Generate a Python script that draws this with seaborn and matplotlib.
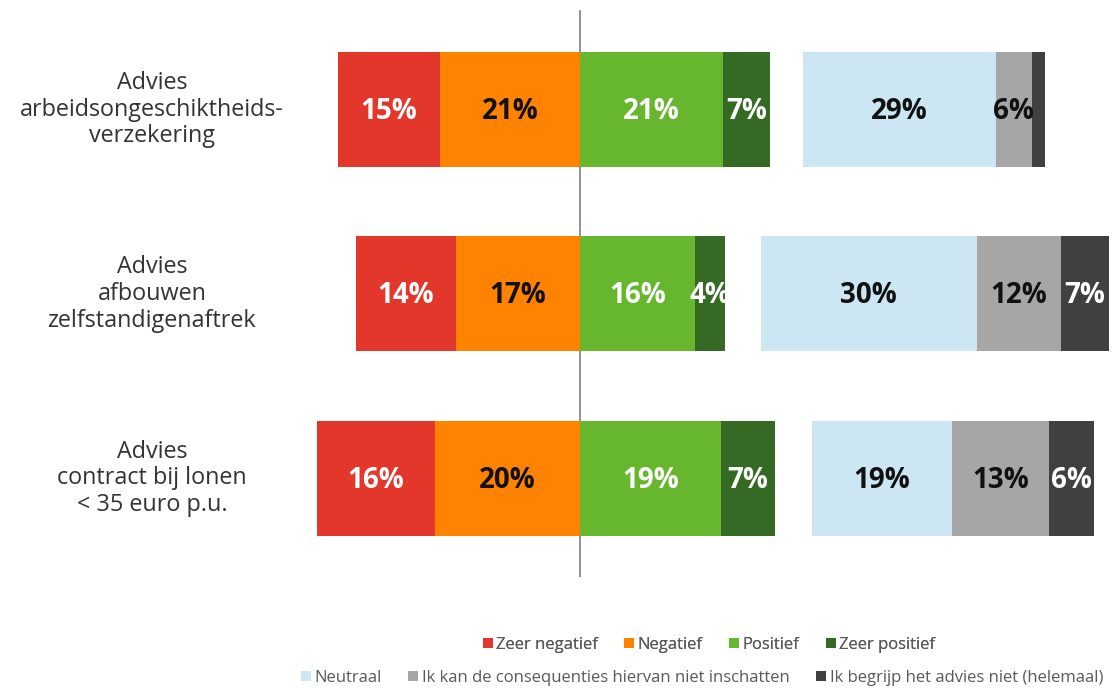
import matplotlib
matplotlib.use('Agg')
import matplotlib.pyplot as plt
from matplotlib.patches import Patch
import seaborn as sns

# Categorieën (van boven naar beneden)
categorieen = ['Advies\narbeidsongeschiktheids-\nverzekering',
               'Advies\nafbouwen\nzelfstandigenaftrek',
               'Advies\ncontract bij lonen\n< 35 euro p.u.']

# Getoonde percentages (None = geen label in het origineel)
pct_zeer_negatief = [15, 14, 16]
pct_negatief = [21, 17, 20]
pct_positief = [21, 16, 19]
pct_zeer_positief = [7, 4, 7]
pct_neutraal = [29, 30, 19]
pct_inschatten = [6, 12, 13]
pct_begrijp = [None, 7, 6]

# Balklengtes zoals getekend in het origineel
len_zeer_negatief = [14.6, 14.3, 16.9]
len_negatief = [20.0, 17.7, 20.7]
len_positief = [20.4, 16.4, 20.1]
len_zeer_positief = [6.7, 4.3, 7.7]
len_neutraal = [27.6, 30.9, 20.0]
len_inschatten = [5.1, 12.0, 13.9]
len_begrijp = [1.9, 6.9, 6.4]
tussenruimte = [4.7, 5.1, 5.3]

legenda_1 = ['Zeer negatief', 'Negatief', 'Positief', 'Zeer positief']
legenda_2 = ['Neutraal', 'Ik kan de consequenties hiervan niet inschatten',
             'Ik begrijp het advies niet (helemaal)']

kleuren_1 = ['#E2372A', '#FF8300', '#66B72E', '#356A24']
kleuren_2 = ['#CCE6F4', '#A6A6A6', '#404040']

sns.set_style('white')
plt.rcParams['font.family'] = ['Open Sans', 'DejaVu Sans']

fig = plt.figure(figsize=(11.12, 6.88), dpi=100)
W, H = 1112, 688
# assen: links 300px, rechts 1112px, boven 10px, onder 577px
ax = fig.add_axes([300 / W, 1 - 577 / H, (1112 - 300) / W, (577 - 10) / H])

y = list(range(len(categorieen)))
hoogte = 0.623


def segment(starts, lengtes, pcts, kleur, tekstkleur):
    ax.barh(y, lengtes, left=starts, height=hoogte, color=kleur, linewidth=0)
    for yi, s, l, p in zip(y, starts, lengtes, pcts):
        if p is None:
            continue
        ax.text(s + l / 2, yi + 0.01, f'{p}%', ha='center', va='center',
                fontsize=20, fontweight='bold', color=tekstkleur)


n = len(y)
# negatieve kant
segment([-(a + b) for a, b in zip(len_zeer_negatief, len_negatief)],
        len_zeer_negatief, pct_zeer_negatief, kleuren_1[0], 'white')
segment([-b for b in len_negatief], len_negatief, pct_negatief, kleuren_1[1], '#111111')
# positieve kant
segment([0] * n, len_positief, pct_positief, kleuren_1[2], 'white')
segment(len_positief, len_zeer_positief, pct_zeer_positief, kleuren_1[3], 'white')
# neutraal blok
start_neutraal = [a + b + g for a, b, g in zip(len_positief, len_zeer_positief, tussenruimte)]
segment(start_neutraal, len_neutraal, pct_neutraal, kleuren_2[0], '#111111')
start_inschatten = [a + b for a, b in zip(start_neutraal, len_neutraal)]
segment(start_inschatten, len_inschatten, pct_inschatten, kleuren_2[1], '#111111')
start_begrijp = [a + b for a, b in zip(start_inschatten, len_inschatten)]
segment(start_begrijp, len_begrijp, pct_begrijp, kleuren_2[2], 'white')

ax.axvline(0, color='#7F7F7F', linewidth=1.2, zorder=0)

ax.set_xlim(-40, 76)
ax.set_ylim(2.534, -0.539)
ax.set_xticks([])
ax.set_yticks([])
sns.despine(ax=ax, left=True, bottom=True)

# categorie-labels
for yi, cat in zip(y, categorieen):
    fig_y = 1 - (109.5 + yi * 184.5) / H
    fig.text(152 / W, fig_y, cat, ha='center', va='center', fontsize=16.8,
             color='#333333', linespacing=1.15)

# legenda's
h1 = [Patch(facecolor=k, edgecolor='none') for k in kleuren_1]
h2 = [Patch(facecolor=k, edgecolor='none') for k in kleuren_2]
leg1 = fig.legend(h1, legenda_1, loc='center', bbox_to_anchor=(709 / W, 1 - 645 / H),
                  ncol=4, frameon=False, fontsize=12, handlelength=0.6, handleheight=0.6,
                  handletextpad=0.2, columnspacing=1.6, labelcolor='#595959')
leg2 = fig.legend(h2, legenda_2, loc='center', bbox_to_anchor=(702 / W, 1 - 678 / H),
                  ncol=3, frameon=False, fontsize=12, handlelength=0.6, handleheight=0.6,
                  handletextpad=0.2, columnspacing=1.6, labelcolor='#595959')
fig.add_artist(leg1)

fig.savefig('out.png', dpi=100)
plt.close(fig)
